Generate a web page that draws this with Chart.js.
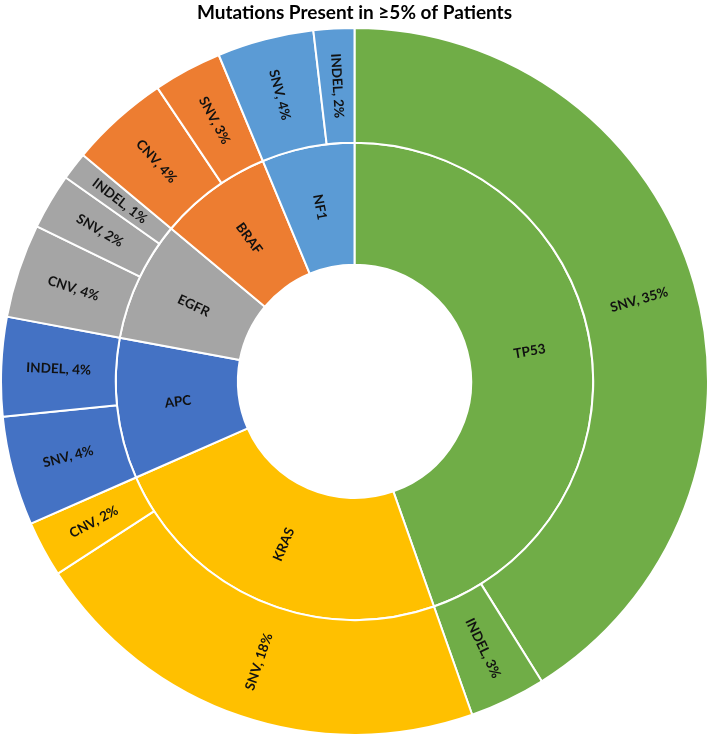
<!DOCTYPE html>
<html>
<head>
<meta charset="utf-8">
<script src="https://cdn.jsdelivr.net/npm/chart.js@4"></script>
<style>
  body { margin: 0; background: #fff; }
</style>
</head>
<body>
<canvas id="grafico_mutacoes" width="709" height="736"></canvas>
<script>
// genes (inner ring), clockwise from 12 o'clock
var genes = ['TP53', 'KRAS', 'APC', 'EGFR', 'BRAF', 'NF1'];
var geneValues = [38.4, 20.5, 8.2, 7.0, 6.6, 5.4];
var geneColors = ['#70AD47', '#FFC000', '#4472C4', '#A5A5A5', '#ED7D31', '#5B9BD5'];

// mutation types (outer ring)
var mutTypes = ['SNV', 'INDEL', 'SNV', 'CNV', 'SNV', 'INDEL', 'CNV', 'SNV', 'INDEL', 'CNV', 'SNV', 'SNV', 'INDEL'];
var mutGene = [0, 0, 1, 1, 2, 2, 3, 3, 3, 4, 4, 5, 5];
var mutValues = [35.4, 3.0, 18.3, 2.2, 4.3, 3.9, 3.7, 2.2, 1.1, 3.9, 2.7, 3.8, 1.6];

var rotuloPlugin = {
  id: 'rotulos',
  afterDatasetsDraw: function(chart) {
    var ctx = chart.ctx;
    ctx.save();
    ctx.fillStyle = '#111';
    ctx.font = 'bold 13.5px Lato, "Open Sans", sans-serif';
    ctx.textAlign = 'center';
    ctx.textBaseline = 'middle';
    chart.data.datasets.forEach(function(ds, i) {
      var meta = chart.getDatasetMeta(i);
      meta.data.forEach(function(arc, j) {
        var p = arc.getProps(['x', 'y', 'startAngle', 'endAngle', 'innerRadius', 'outerRadius'], true);
        var a = (p.startAngle + p.endAngle) / 2;
        var r = (p.innerRadius + p.outerRadius) / 2;
        var rot = a;
        if (Math.cos(a) < 0) rot = a + Math.PI;
        ctx.save();
        ctx.translate(p.x + Math.cos(a) * r, p.y + Math.sin(a) * r);
        ctx.rotate(rot);
        ctx.fillText(ds.rotulos[j], 0, 0);
        ctx.restore();
      });
    });
    ctx.restore();
  }
};

new Chart(document.getElementById('grafico_mutacoes'), {
  type: 'doughnut',
  data: {
    datasets: [
      {
        data: mutValues,
        backgroundColor: mutGene.map(function(g) { return geneColors[g]; }),
        borderColor: '#fff',
        borderWidth: 2,
        weight: 0.94,
        rotulos: mutTypes.map(function(t, k) { return t + ', ' + Math.round(mutValues[k]) + '%'; })
      },
      {
        data: geneValues,
        backgroundColor: geneColors,
        borderColor: '#fff',
        borderWidth: 2,
        weight: 1,
        rotulos: genes
      }
    ]
  },
  options: {
    responsive: false,
    animation: false,
    cutout: '33%',
    layout: { padding: 0 },
    plugins: {
      legend: { display: false },
      tooltip: { enabled: false },
      title: {
        display: true,
        text: 'Mutations Present in ≥5% of Patients',
        color: '#000',
        font: { family: 'Lato, "Open Sans", sans-serif', size: 19, weight: 'bold' },
        padding: { top: 1, bottom: 3 }
      }
    }
  },
  plugins: [rotuloPlugin]
});
</script>
</body>
</html>
